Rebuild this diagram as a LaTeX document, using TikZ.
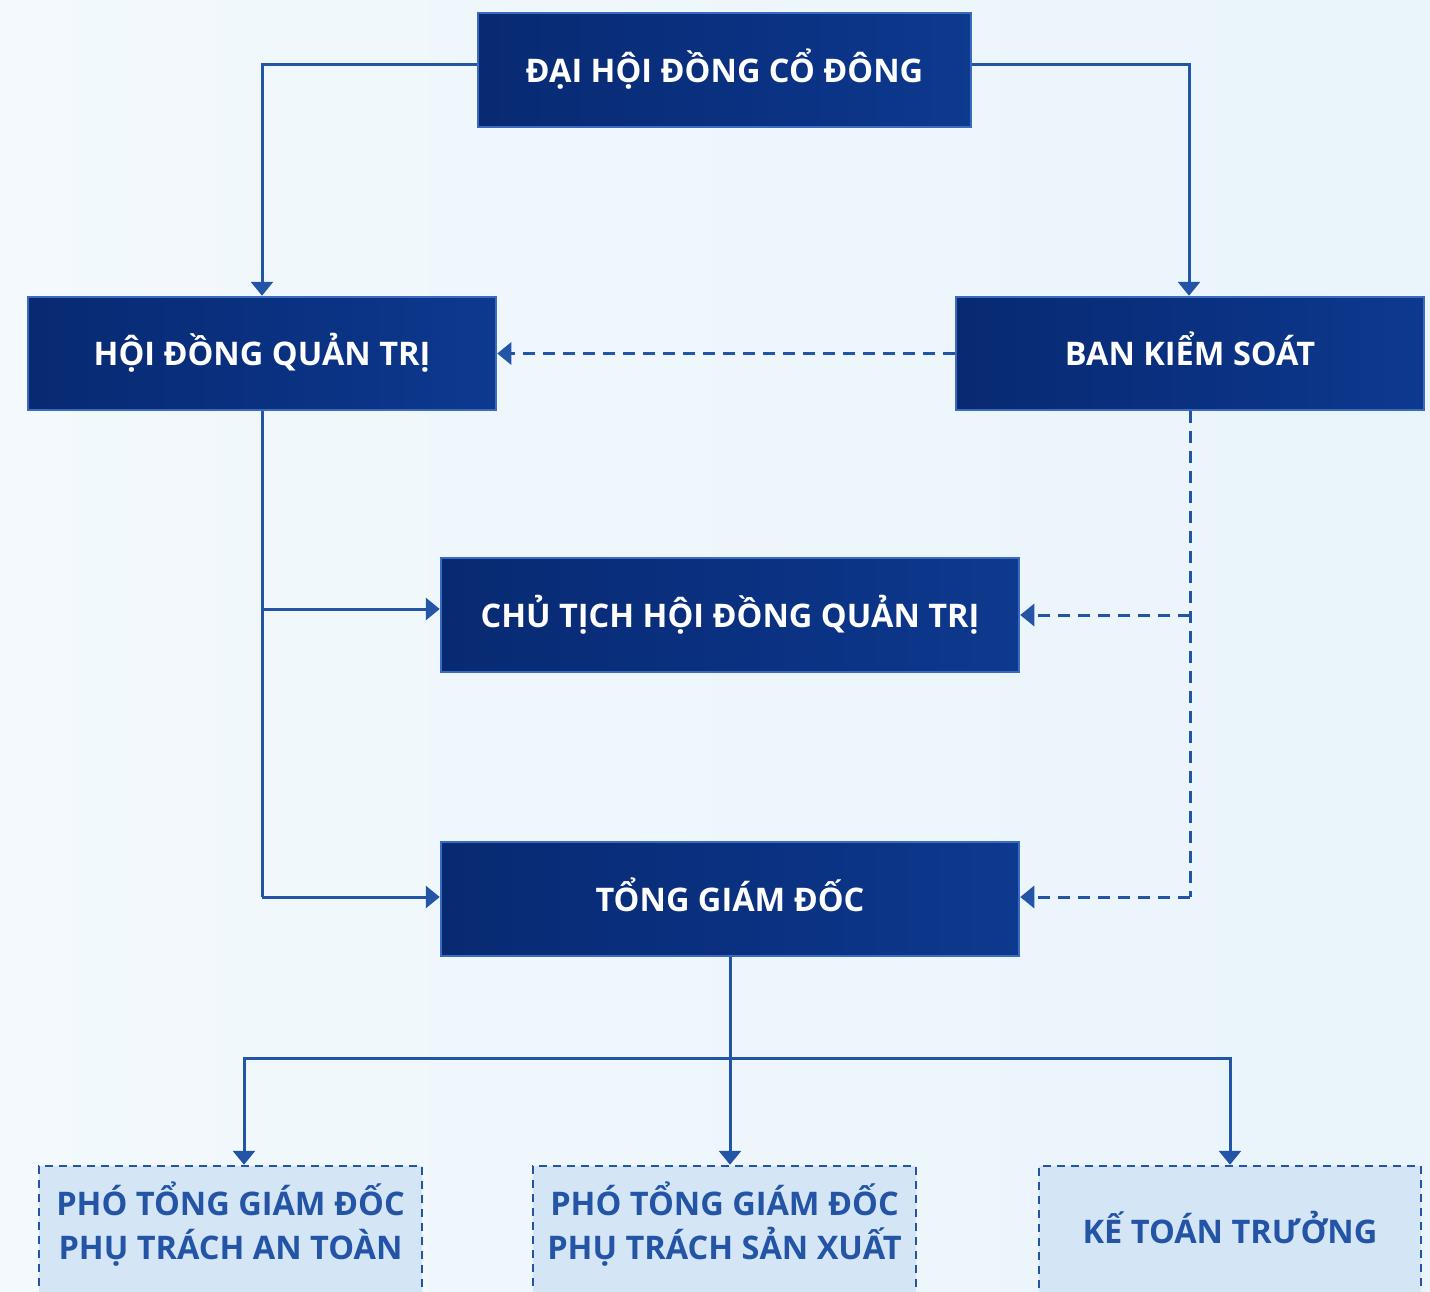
\documentclass[tikz,border=0pt]{standalone}
\usepackage{fontspec}
\setmainfont{Open Sans}
\usetikzlibrary{arrows.meta,positioning}
\definecolor{bgL}{HTML}{F3F9FC}
\definecolor{bgR}{HTML}{E9F4FB}
\definecolor{navy}{HTML}{0A3080}
\definecolor{navyD}{HTML}{082A72}
\definecolor{navyL}{HTML}{0D398E}
\definecolor{rim}{HTML}{3A6BC0}
\definecolor{wire}{HTML}{2354A6}
\definecolor{pale}{HTML}{D4E6F5}
\tikzset{
  darkbox/.style={draw=rim, line width=2.5pt, left color=navyD, right color=navyL, middle color=navy,
    text=white, font=\bfseries\fontsize{32.5}{36}\selectfont, inner sep=0pt, align=center,
    text height=24pt, text depth=0pt},
  palebox/.style={draw=wire, line width=2.5pt, dash pattern=on 8pt off 6pt, fill=pale,
    text=wire, font=\bfseries\fontsize{32.5}{44}\selectfont, inner sep=0pt, align=center},
  link/.style={draw=wire, line width=3pt, -{Triangle[width=22pt,length=14pt]}},
  plain/.style={draw=wire, line width=3pt},
  dlink/.style={link, dash pattern=on 12pt off 8pt},
  dplain/.style={plain, dash pattern=on 12pt off 8pt},
}
\begin{document}
\begin{tikzpicture}[x=1pt,y=-1pt]
  \clip (0,0) rectangle (1430,1291);
  \shade[left color=bgL, right color=bgR] (0,0) rectangle (1430,1291);

  % governance boxes
  \node[darkbox, minimum width=493pt, minimum height=114pt] (dhcd) at (724.5,70) {ĐẠI HỘI ĐỒNG CỔ ĐÔNG};
  \node[darkbox, minimum width=468pt, minimum height=113pt] (hdqt) at (262,353.5) {HỘI ĐỒNG QUẢN TRỊ};
  \node[darkbox, minimum width=468pt, minimum height=113pt] (bks) at (1190,353.5) {BAN KIỂM SOÁT};
  \node[darkbox, minimum width=578pt, minimum height=114pt] (ct) at (730,615) {CHỦ TỊCH HỘI ĐỒNG QUẢN TRỊ};
  \node[darkbox, minimum width=578pt, minimum height=114pt] (tgd) at (730,899) {TỔNG GIÁM ĐỐC};

  % executive boxes
  \node[palebox, text height=68pt, text depth=12pt, minimum width=383pt, minimum height=130pt] (pat) at (230.5,1231) {PHÓ TỔNG GIÁM ĐỐC\\PHỤ TRÁCH AN TOÀN};
  \node[palebox, text height=68pt, text depth=12pt, minimum width=383pt, minimum height=130pt] (psx) at (724.5,1231) {PHÓ TỔNG GIÁM ĐỐC\\PHỤ TRÁCH SẢN XUẤT};
  \node[palebox, text height=24pt, text depth=0pt, minimum width=382pt, minimum height=130pt] (ktt) at (1230,1231) {KẾ TOÁN TRƯỞNG};

  % shareholders to board and supervisors
  \draw[link] (dhcd.west |- 0,64) -| (hdqt.north);
  \draw[link] (dhcd.east |- 0,64) -| (bks.north -| 1189,0);

  % supervisory lines
  \draw[dlink] (bks.west) -- (hdqt.east);
  \coordinate (bkd) at (1190,897);
  \draw[dplain] (bks.south) -- (bkd);
  \draw[dlink] (bkd) -- (tgd.east |- bkd);
  \draw[dlink] (1190,615) -- (ct.east);

  % board lines
  \coordinate (hqd) at (262,897);
  \draw[plain] (hdqt.south) -- (hqd);
  \draw[link] (hqd) -- (tgd.west |- hqd);
  \draw[link] (262,609) -- (ct.west |- 0,609);

  % CEO to deputies
  \coordinate (bus) at (730,1058);
  \draw[link] (tgd.south) -- (tgd.south |- psx.north);
  \draw[link] (bus) -| (pat.north -| 244,0);
  \draw[link] (bus) -| (ktt.north);
\end{tikzpicture}
\end{document}
